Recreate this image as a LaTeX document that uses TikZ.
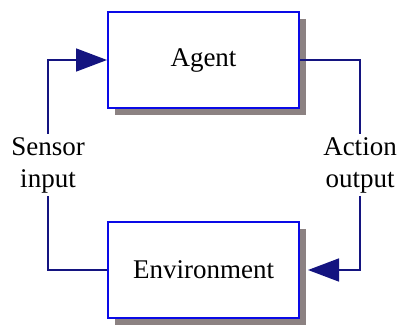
\documentclass[tikz,border=0pt]{standalone}
\usepackage{fontspec}
\setmainfont{Liberation Serif}
\usetikzlibrary{arrows.meta,shadows}
\definecolor{boxblue}{HTML}{0A0AE6}
\definecolor{linenavy}{HTML}{141480}
\definecolor{shadowgray}{HTML}{8C8282}

\tikzset{
	block/.style={draw=boxblue, line width=2pt, fill=white, minimum width=191pt, minimum height=96pt,
		font=\fontsize{27}{32}\selectfont,
		drop shadow={shadow xshift=7pt, shadow yshift=-7pt, fill=shadowgray, opacity=1}},
	label/.style={align=center, inner sep=3pt, font=\fontsize{27}{32}\selectfont},
	wire/.style={draw=linenavy, line width=1.6pt},
	feed/.style={wire, -{Triangle[length=31pt,width=23pt]}}
}

\begin{document}
\begin{tikzpicture}[x=1pt, y=-1pt]
	\useasboundingbox (0,0) rectangle (398,325);
	\node[block] (agent) at (203.5,60) {Agent};
	\node[block] (env) at (203.5,270) {Environment};
	\node[label] (sensor) at (48,165) {Sensor\\input};
	\node[label] (action) at (360,165) {Action\\output};
	\draw[wire] (env.west) -| (sensor.south);
	\draw[feed] (sensor.north) |- (agent.west);
	\draw[wire] (agent.east) -| (action.north);
	\draw[feed] (action.south) |- ([xshift=8pt]env.east);
\end{tikzpicture}
\end{document}
